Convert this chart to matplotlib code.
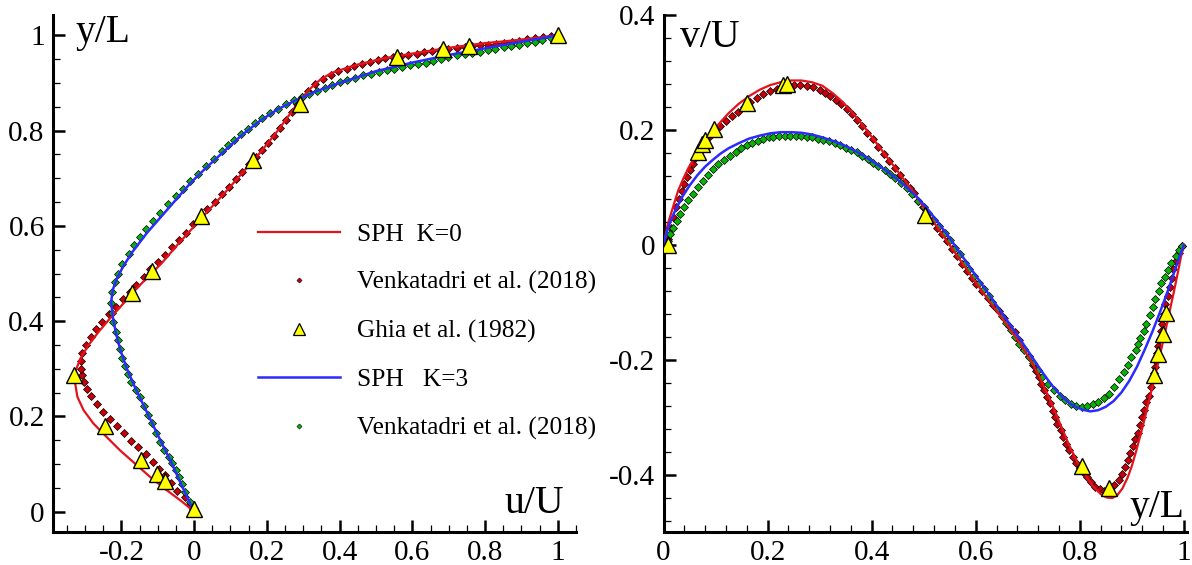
import matplotlib
matplotlib.use("Agg")
import matplotlib.pyplot as plt
from matplotlib.lines import Line2D
from matplotlib.ticker import MultipleLocator, FuncFormatter

plt.rcParams['font.family'] = ['Liberation Serif', 'DejaVu Serif']
plt.rcParams['axes.unicode_minus'] = False

# ---------------- Left panel: u/U along vertical centreline ----------------
ghia_u = [1.0, 0.757, 0.684, 0.558, 0.290, 0.161, 0.020, -0.115, -0.172, -0.329,
          -0.245, -0.146, -0.101, -0.081, 0.0]
ghia_uy = [1.0, 0.977, 0.971, 0.955, 0.856, 0.739, 0.621, 0.505, 0.459, 0.286,
           0.179, 0.109, 0.078, 0.064, 0.006]

sph0_u = [0.0, -0.037, -0.074, -0.120, -0.157, -0.203, -0.245, -0.277, -0.304, -0.321,
          -0.327, -0.325, -0.313, -0.291, -0.263, -0.231, -0.198, -0.166, -0.127, -0.090,
          -0.046, 0.0, 0.046, 0.092, 0.138, 0.184, 0.230, 0.276, 0.313, 0.345,
          0.377, 0.440, 0.515, 0.600, 0.699, 0.800, 0.884, 0.994]
sph0_uy = [0.0, 0.023, 0.044, 0.072, 0.097, 0.128, 0.160, 0.185, 0.213, 0.241,
           0.269, 0.297, 0.321, 0.349, 0.377, 0.406, 0.434, 0.462, 0.493, 0.521,
           0.560, 0.599, 0.638, 0.676, 0.716, 0.756, 0.800, 0.848, 0.884, 0.906,
           0.921, 0.937, 0.951, 0.962, 0.974, 0.984, 0.990, 1.0]

ven0_u = [0.001, -0.010, -0.026, -0.046, -0.063, -0.079, -0.097, -0.114, -0.133, -0.153,
          -0.173, -0.192, -0.212, -0.231, -0.251, -0.266, -0.284, -0.295, -0.304, -0.309,
          -0.312, -0.310, -0.307, -0.297, -0.284, -0.269, -0.252, -0.234, -0.215, -0.196,
          -0.177, -0.159, -0.139, -0.121, -0.100, -0.081, -0.060, -0.042, -0.022, -0.002,
          0.018, 0.036, 0.057, 0.077, 0.096, 0.115, 0.133, 0.151, 0.170, 0.186,
          0.204, 0.220, 0.237, 0.253, 0.268, 0.282, 0.297, 0.313, 0.331, 0.354,
          0.375, 0.395, 0.419, 0.440, 0.462, 0.483, 0.506, 0.526, 0.548, 0.569,
          0.589, 0.612, 0.633, 0.654, 0.677, 0.699, 0.722, 0.744, 0.765, 0.787,
          0.808, 0.830, 0.851, 0.874, 0.894, 0.916, 0.937, 0.959, 0.980]
ven0_uy = [0.008, 0.016, 0.030, 0.044, 0.060, 0.076, 0.090, 0.105, 0.121, 0.135,
           0.149, 0.165, 0.180, 0.195, 0.209, 0.225, 0.242, 0.258, 0.272, 0.286,
           0.299, 0.316, 0.333, 0.349, 0.366, 0.383, 0.399, 0.415, 0.430, 0.446,
           0.461, 0.476, 0.493, 0.509, 0.525, 0.539, 0.556, 0.571, 0.586, 0.604,
           0.620, 0.635, 0.651, 0.667, 0.682, 0.698, 0.714, 0.730, 0.745, 0.760,
           0.775, 0.789, 0.806, 0.822, 0.839, 0.855, 0.870, 0.884, 0.899, 0.909,
           0.918, 0.925, 0.930, 0.935, 0.940, 0.944, 0.948, 0.952, 0.954, 0.956,
           0.959, 0.962, 0.965, 0.968, 0.970, 0.972, 0.974, 0.976, 0.978, 0.979,
           0.981, 0.983, 0.985, 0.987, 0.989, 0.992, 0.994, 0.997, 0.999]

sph3_u = [0.0, -0.019, -0.040, -0.065, -0.090, -0.115, -0.140, -0.165, -0.185, -0.203,
          -0.215, -0.224, -0.228, -0.224, -0.212, -0.195, -0.170, -0.130, -0.090, -0.050,
          -0.010, 0.030, 0.080, 0.130, 0.180, 0.230, 0.280, 0.340, 0.400, 0.500,
          0.600, 0.700, 0.800, 0.900, 1.0]
sph3_uy = [0.0, 0.030, 0.065, 0.107, 0.145, 0.185, 0.225, 0.265, 0.300, 0.340,
           0.375, 0.410, 0.440, 0.465, 0.490, 0.515, 0.545, 0.585, 0.620, 0.655,
           0.690, 0.720, 0.755, 0.790, 0.820, 0.845, 0.864, 0.884, 0.900, 0.925,
           0.943, 0.959, 0.973, 0.987, 1.0]

ven3_u = [-0.002, -0.011, -0.025, -0.033, -0.042, -0.051, -0.060, -0.070, -0.083, -0.094,
          -0.106, -0.115, -0.127, -0.139, -0.150, -0.161, -0.173, -0.183, -0.189, -0.198,
          -0.205, -0.210, -0.214, -0.222, -0.226, -0.229, -0.226, -0.217, -0.208, -0.198,
          -0.180, -0.164, -0.148, -0.131, -0.113, -0.094, -0.072, -0.051, -0.030, -0.010,
          0.012, 0.034, 0.055, 0.078, 0.093, 0.110, 0.129, 0.147, 0.167, 0.188,
          0.209, 0.230, 0.253, 0.276, 0.296, 0.317, 0.338, 0.359, 0.380, 0.400,
          0.421, 0.443, 0.464, 0.485, 0.508, 0.529, 0.550, 0.572, 0.593, 0.615,
          0.637, 0.658, 0.679, 0.699, 0.722, 0.744, 0.764, 0.787, 0.808, 0.828,
          0.851, 0.872, 0.893, 0.916, 0.937, 0.957, 0.980, 0.994]
ven3_uy = [0.006, 0.020, 0.041, 0.057, 0.073, 0.087, 0.101, 0.114, 0.130, 0.146,
           0.164, 0.185, 0.202, 0.221, 0.241, 0.256, 0.272, 0.288, 0.305, 0.323,
           0.342, 0.360, 0.377, 0.399, 0.417, 0.438, 0.461, 0.482, 0.500, 0.521,
           0.542, 0.560, 0.577, 0.593, 0.610, 0.628, 0.645, 0.662, 0.677, 0.695,
           0.709, 0.725, 0.741, 0.758, 0.769, 0.780, 0.792, 0.803, 0.816, 0.826,
           0.837, 0.845, 0.855, 0.864, 0.871, 0.878, 0.884, 0.890, 0.896, 0.902,
           0.906, 0.911, 0.916, 0.919, 0.923, 0.927, 0.930, 0.934, 0.937, 0.940,
           0.943, 0.947, 0.951, 0.954, 0.958, 0.961, 0.963, 0.966, 0.969, 0.972,
           0.975, 0.978, 0.981, 0.984, 0.987, 0.990, 0.995, 0.999]

# ---------------- Right panel: v/U along horizontal centreline ----------------
ghia_x = [0.008, 0.066, 0.074, 0.080, 0.097, 0.160, 0.230, 0.237, 0.503,
          0.805, 0.857, 0.942, 0.951, 0.959, 0.965]
ghia_v = [0.0, 0.162, 0.175, 0.182, 0.201, 0.247, 0.279, 0.280, 0.052,
          -0.385, -0.423, -0.226, -0.190, -0.156, -0.118]

sph0_x = [0.0, 0.003, 0.008, 0.016, 0.028, 0.038, 0.048, 0.060, 0.075, 0.090,
          0.105, 0.125, 0.144, 0.165, 0.185, 0.205, 0.225, 0.245, 0.265, 0.285,
          0.305, 0.325, 0.345, 0.365, 0.385, 0.405, 0.425, 0.445, 0.465, 0.485,
          0.505, 0.525, 0.545, 0.565, 0.585, 0.605, 0.625, 0.645, 0.665, 0.685,
          0.705, 0.720, 0.735, 0.750, 0.765, 0.780, 0.795, 0.810, 0.825, 0.840,
          0.852, 0.862, 0.872, 0.882, 0.892, 0.900, 0.908, 0.916, 0.924, 0.932,
          0.940, 0.948, 0.956, 0.964, 0.972, 0.980, 0.988, 0.995, 1.0]
sph0_v = [0.0, 0.013, 0.035, 0.059, 0.094, 0.115, 0.134, 0.152, 0.173, 0.194,
          0.209, 0.229, 0.245, 0.259, 0.270, 0.278, 0.283, 0.286, 0.286, 0.283,
          0.277, 0.264, 0.248, 0.228, 0.206, 0.182, 0.158, 0.134, 0.110, 0.086,
          0.058, 0.032, 0.006, -0.020, -0.046, -0.072, -0.097, -0.121, -0.146, -0.172,
          -0.200, -0.225, -0.255, -0.285, -0.318, -0.350, -0.378, -0.400, -0.420, -0.434,
          -0.440, -0.441, -0.436, -0.424, -0.405, -0.385, -0.360, -0.333, -0.305, -0.275,
          -0.245, -0.215, -0.184, -0.152, -0.118, -0.085, -0.050, -0.018, 0.0]

ven0_x = [0.008, 0.014, 0.020, 0.024, 0.029, 0.035, 0.040, 0.046, 0.051, 0.056,
          0.061, 0.070, 0.080, 0.090, 0.099, 0.109, 0.120, 0.131, 0.143, 0.155,
          0.167, 0.179, 0.192, 0.205, 0.218, 0.230, 0.240, 0.250, 0.262, 0.275,
          0.288, 0.300, 0.311, 0.320, 0.331, 0.341, 0.352, 0.362, 0.372, 0.381,
          0.391, 0.402, 0.412, 0.423, 0.434, 0.444, 0.455, 0.464, 0.474, 0.481,
          0.489, 0.498, 0.507, 0.516, 0.525, 0.535, 0.545, 0.554, 0.564, 0.574,
          0.583, 0.592, 0.601, 0.612, 0.623, 0.634, 0.645, 0.655, 0.664, 0.675,
          0.684, 0.693, 0.702, 0.710, 0.716, 0.721, 0.726, 0.731, 0.737, 0.742,
          0.748, 0.753, 0.757, 0.764, 0.768, 0.774, 0.780, 0.787, 0.793, 0.800,
          0.807, 0.814, 0.822, 0.830, 0.838, 0.846, 0.856, 0.866, 0.875, 0.881,
          0.887, 0.892, 0.897, 0.902, 0.906, 0.911, 0.915, 0.919, 0.924, 0.928,
          0.932, 0.936, 0.940, 0.943, 0.945, 0.947, 0.949, 0.951, 0.954, 0.956,
          0.958, 0.961, 0.964, 0.970, 0.973, 0.977, 0.980, 0.985, 0.990, 0.996]
ven0_v = [0.010, 0.030, 0.047, 0.065, 0.079, 0.094, 0.106, 0.118, 0.130, 0.140,
          0.151, 0.165, 0.178, 0.190, 0.198, 0.207, 0.216, 0.224, 0.232, 0.240,
          0.249, 0.256, 0.262, 0.268, 0.272, 0.276, 0.278, 0.278, 0.278, 0.277,
          0.274, 0.270, 0.265, 0.259, 0.252, 0.245, 0.236, 0.227, 0.217, 0.207,
          0.195, 0.184, 0.171, 0.158, 0.146, 0.133, 0.122, 0.110, 0.099, 0.090,
          0.077, 0.065, 0.053, 0.042, 0.030, 0.019, 0.007, -0.007, -0.019, -0.033,
          -0.045, -0.057, -0.068, -0.081, -0.092, -0.104, -0.116, -0.127, -0.141, -0.152,
          -0.166, -0.181, -0.193, -0.209, -0.220, -0.231, -0.242, -0.253, -0.265, -0.276,
          -0.289, -0.300, -0.312, -0.323, -0.335, -0.347, -0.358, -0.370, -0.380, -0.389,
          -0.396, -0.405, -0.413, -0.421, -0.425, -0.428, -0.425, -0.419, -0.409, -0.399,
          -0.387, -0.375, -0.363, -0.351, -0.338, -0.327, -0.313, -0.300, -0.288, -0.274,
          -0.263, -0.248, -0.236, -0.224, -0.213, -0.202, -0.189, -0.176, -0.164, -0.150,
          -0.138, -0.120, -0.103, -0.089, -0.073, -0.057, -0.042, -0.028, -0.014, -0.002]

sph3_x = [0.0, 0.003, 0.010, 0.020, 0.035, 0.050, 0.065, 0.080, 0.095, 0.110,
          0.125, 0.145, 0.165, 0.185, 0.205, 0.225, 0.245, 0.265, 0.285, 0.305,
          0.325, 0.345, 0.365, 0.385, 0.405, 0.425, 0.445, 0.465, 0.485, 0.505,
          0.525, 0.545, 0.565, 0.585, 0.605, 0.625, 0.645, 0.665, 0.685, 0.705,
          0.725, 0.745, 0.765, 0.785, 0.805, 0.820, 0.835, 0.850, 0.865, 0.880,
          0.895, 0.910, 0.925, 0.940, 0.955, 0.970, 0.985, 1.0]
sph3_v = [0.0, 0.012, 0.033, 0.055, 0.082, 0.103, 0.121, 0.136, 0.148, 0.159,
          0.168, 0.177, 0.185, 0.190, 0.194, 0.196, 0.196, 0.195, 0.192, 0.187,
          0.181, 0.174, 0.165, 0.155, 0.143, 0.131, 0.117, 0.102, 0.085, 0.065,
          0.042, 0.018, -0.008, -0.034, -0.060, -0.086, -0.112, -0.138, -0.164, -0.191,
          -0.218, -0.243, -0.264, -0.279, -0.287, -0.290, -0.288, -0.282, -0.272, -0.257,
          -0.237, -0.212, -0.182, -0.150, -0.115, -0.078, -0.038, 0.0]

ven3_x = [0.009, 0.013, 0.019, 0.025, 0.032, 0.040, 0.048, 0.056, 0.066, 0.075,
          0.085, 0.096, 0.105, 0.116, 0.128, 0.139, 0.149, 0.160, 0.171, 0.181,
          0.191, 0.202, 0.211, 0.222, 0.234, 0.243, 0.254, 0.264, 0.275, 0.286,
          0.297, 0.307, 0.318, 0.330, 0.339, 0.350, 0.361, 0.372, 0.382, 0.393,
          0.403, 0.413, 0.425, 0.436, 0.445, 0.457, 0.468, 0.478, 0.490, 0.500,
          0.509, 0.520, 0.530, 0.541, 0.551, 0.560, 0.570, 0.580, 0.588, 0.597,
          0.607, 0.615, 0.625, 0.632, 0.641, 0.650, 0.659, 0.668, 0.676, 0.684,
          0.692, 0.702, 0.710, 0.719, 0.728, 0.739, 0.750, 0.761, 0.772, 0.783,
          0.793, 0.804, 0.814, 0.825, 0.835, 0.846, 0.856, 0.866, 0.876, 0.884,
          0.892, 0.899, 0.907, 0.912, 0.916, 0.923, 0.928, 0.934, 0.941, 0.945,
          0.952, 0.956, 0.963, 0.969, 0.975, 0.984, 0.990, 0.996]
ven3_v = [0.007, 0.019, 0.030, 0.041, 0.053, 0.065, 0.078, 0.089, 0.101, 0.111,
          0.122, 0.132, 0.140, 0.147, 0.155, 0.162, 0.168, 0.174, 0.178, 0.181,
          0.184, 0.187, 0.188, 0.189, 0.190, 0.190, 0.190, 0.189, 0.188, 0.187,
          0.185, 0.183, 0.180, 0.177, 0.174, 0.169, 0.165, 0.161, 0.155, 0.149,
          0.143, 0.137, 0.130, 0.123, 0.116, 0.107, 0.099, 0.089, 0.076, 0.066,
          0.055, 0.044, 0.033, 0.020, 0.008, -0.005, -0.016, -0.031, -0.042, -0.054,
          -0.066, -0.077, -0.089, -0.100, -0.112, -0.124, -0.137, -0.148, -0.160, -0.172,
          -0.183, -0.195, -0.206, -0.218, -0.231, -0.242, -0.253, -0.263, -0.271, -0.277,
          -0.281, -0.282, -0.281, -0.278, -0.274, -0.267, -0.259, -0.247, -0.234, -0.222,
          -0.209, -0.196, -0.184, -0.173, -0.162, -0.150, -0.138, -0.123, -0.109, -0.094,
          -0.080, -0.067, -0.056, -0.044, -0.032, -0.019, -0.009, -0.002]

legend_labels = ["SPH  K=0", "Venkatadri et al. (2018)", "Ghia et al. (1982)",
                 "SPH   K=3", "Venkatadri et al. (2018)"]

# ---------------- styles ----------------
RED = '#e3131b'
DRED = '#c8000a'
BLUE = '#2b2bff'
GREEN = '#06b406'
YELLOW = '#ffff00'

W, H = 1192, 565
fig = plt.figure(figsize=(W / 100, H / 100), dpi=100)
axL = fig.add_axes([53 / W, (H - 532) / H, 523 / W, 517 / H])
axR = fig.add_axes([663.5 / W, (H - 532) / H, 523 / W, 517 / H])

fmt = FuncFormatter(lambda v, p: ('%g' % round(v, 6)))


def style(ax):
    for s in ('top', 'right'):
        ax.spines[s].set_visible(False)
    for s in ('left', 'bottom'):
        ax.spines[s].set_linewidth(2.2)
    ax.tick_params(which='major', direction='in', length=8.5, width=1.8,
                   labelsize=21, pad=6, top=False, right=False)
    ax.tick_params(which='minor', direction='in', length=5, width=0.9,
                   top=False, right=False)
    ax.xaxis.set_major_formatter(fmt)
    ax.yaxis.set_major_formatter(fmt)


def draw(ax, l0x, l0y, d0x, d0y, l3x, l3y, d3x, d3y, gx, gy):
    ax.plot(d0x, d0y, ls='none', marker='D', ms=3.9, mfc=DRED, mec='black',
            mew=0.5, zorder=3)
    ax.plot(l0x, l0y, color=RED, lw=1.6, zorder=4)
    ax.plot(d3x, d3y, ls='none', marker='D', ms=3.9, mfc=GREEN, mec='black',
            mew=0.5, zorder=3)
    ax.plot(l3x, l3y, color=BLUE, lw=1.8, zorder=4)
    ax.plot(gx, gy, ls='none', marker='^', ms=11.5, mfc=YELLOW, mec='black',
            mew=1.0, zorder=5)


# Left panel
draw(axL, sph0_u, sph0_uy, ven0_u, ven0_uy, sph3_u, sph3_uy, ven3_u, ven3_uy,
     ghia_u, ghia_uy)
style(axL)
axL.set_xlim(-0.388, 1.05)
axL.set_ylim(-0.043, 1.043)
axL.xaxis.set_major_locator(MultipleLocator(0.2))
axL.xaxis.set_minor_locator(MultipleLocator(0.05))
axL.yaxis.set_major_locator(MultipleLocator(0.2))
axL.yaxis.set_minor_locator(MultipleLocator(0.05))

# Right panel
draw(axR, sph0_x, sph0_v, ven0_x, ven0_v, sph3_x, sph3_v, ven3_x, ven3_v,
     ghia_x, ghia_v)
style(axR)
axR.set_xlim(0, 1.005)
axR.set_ylim(-0.5, 0.4)
axR.xaxis.set_major_locator(MultipleLocator(0.2))
axR.xaxis.set_minor_locator(MultipleLocator(0.04))
axR.yaxis.set_major_locator(MultipleLocator(0.2))
axR.yaxis.set_minor_locator(MultipleLocator(0.04))

# Axis titles inside the frames
fig.text(76 / W, 1 - 42 / H, 'y/L', fontsize=28.5, ha='left', va='baseline')
fig.text(504 / W, 1 - 513 / H, 'u/U', fontsize=28.5, ha='left', va='baseline')
fig.text(680 / W, 1 - 47 / H, 'v/U', fontsize=28.5, ha='left', va='baseline')
fig.text(1130 / W, 1 - 517 / H, 'y/L', fontsize=28.5, ha='left', va='baseline')

# Legend
handles = [
    Line2D([], [], color=RED, lw=1.6),
    Line2D([], [], ls='none', marker='D', ms=2.6, mfc=DRED, mec='black', mew=0.4),
    Line2D([], [], ls='none', marker='^', ms=9, mfc=YELLOW, mec='black', mew=0.9),
    Line2D([], [], color=BLUE, lw=1.8),
    Line2D([], [], ls='none', marker='D', ms=2.6, mfc=GREEN, mec='black', mew=0.4),
]
axL.legend(handles, legend_labels, loc='upper left',
           bbox_to_anchor=((258 - 53) / 523, (532 - 223) / 517),
           frameon=False, fontsize=18.3, handlelength=3.23, handletextpad=0.67,
           labelspacing=1.0, borderpad=0, borderaxespad=0)

fig.savefig('out.png', dpi=100)
